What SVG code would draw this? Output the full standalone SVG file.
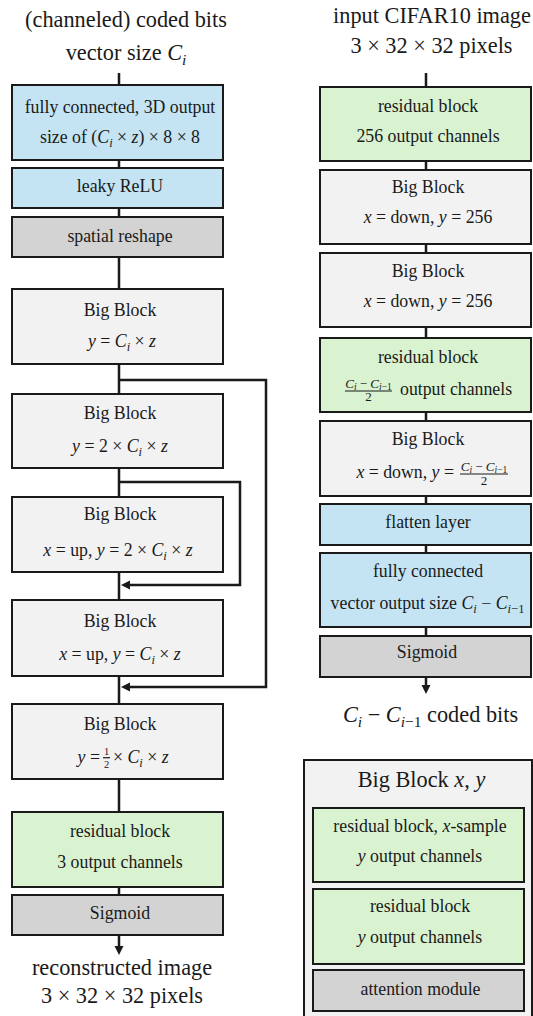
<svg xmlns="http://www.w3.org/2000/svg" width="533" height="1016" viewBox="0 0 533 1016">
<defs>
<style>
.t{font-family:"Liberation Serif","Times New Roman",serif;font-size:17.8px;fill:#1a1a1a;text-anchor:middle}
.h{font-size:22.3px}
.st{text-anchor:start}
.en{text-anchor:end}
.i{font-style:italic}
.sb{font-size:12.5px}
.hs{font-size:15.5px}
.fr{font-size:13px}
.fh{font-size:10.5px}
.fs{font-size:9.5px}
.bx{stroke:#1a1a1a;stroke-width:2}
.blue{fill:#c4e4f4}
.green{fill:#d9f2d0}
.lg{fill:#f2f2f2}
.dg{fill:#d3d3d3}
.bar{stroke:#1a1a1a;stroke-width:1.2}
</style>
<marker id="ah" viewBox="0 -5 10 10" refX="0" refY="0" markerWidth="10" markerHeight="10" markerUnits="userSpaceOnUse" orient="auto">
<path d="M0,-4.5 L9,0 L0,4.5 z" fill="#1a1a1a"/>
</marker>
</defs>
<rect width="533" height="1016" fill="#ffffff"/>

<g id="connectors" fill="none" stroke="#1a1a1a" stroke-width="2.5">
<path d="M119,73 V946" marker-end="url(#ah)"/>
<path d="M119,380 H266 V687 H130" marker-end="url(#ah)"/>
<path d="M119,482 H240 V585 H130" marker-end="url(#ah)"/>
<path d="M426,73 V685" marker-end="url(#ah)"/>
</g>

<g id="dec-title">
<text class="t h" x="126" y="27">(channeled) coded bits</text>
<text class="t h" x="126" y="60">vector size <tspan class="i">C</tspan><tspan class="i hs" dy="5">i</tspan></text>
</g>

<g id="dec-fc">
<rect class="bx blue" x="12" y="85" width="211" height="75"/>
<text class="t" x="120" y="113">fully connected, 3D output</text>
<text class="t" x="120" y="143">size of (<tspan class="i">C</tspan><tspan class="i sb" dy="4">i</tspan><tspan dy="-4"> × </tspan><tspan class="i">z</tspan>) × 8 × 8</text>
</g>

<g id="dec-relu">
<rect class="bx blue" x="12" y="168" width="211" height="40"/>
<text class="t" x="120" y="192">leaky ReLU</text>
</g>

<g id="dec-reshape">
<rect class="bx dg" x="12" y="217" width="211" height="40"/>
<text class="t" x="120" y="242">spatial reshape</text>
</g>

<g id="dec-bb1">
<rect class="bx lg" x="12" y="289" width="211" height="75"/>
<text class="t" x="120" y="316">Big Block</text>
<text class="t" x="122" y="347"><tspan class="i">y</tspan> = <tspan class="i">C</tspan><tspan class="i sb" dy="4">i</tspan><tspan dy="-4"> × </tspan><tspan class="i">z</tspan></text>
</g>

<g id="dec-bb2">
<rect class="bx lg" x="12" y="394" width="211" height="74"/>
<text class="t" x="120" y="419">Big Block</text>
<text class="t" x="120" y="452"><tspan class="i">y</tspan> = 2 × <tspan class="i">C</tspan><tspan class="i sb" dy="4">i</tspan><tspan dy="-4"> × </tspan><tspan class="i">z</tspan></text>
</g>

<g id="dec-bb3">
<rect class="bx lg" x="12" y="497" width="211" height="75"/>
<text class="t" x="120" y="520">Big Block</text>
<text class="t" x="118" y="556"><tspan class="i">x</tspan> = up, <tspan class="i">y</tspan> = 2 × <tspan class="i">C</tspan><tspan class="i sb" dy="4">i</tspan><tspan dy="-4"> × </tspan><tspan class="i">z</tspan></text>
</g>

<g id="dec-bb4">
<rect class="bx lg" x="12" y="600" width="211" height="76"/>
<text class="t" x="120" y="627">Big Block</text>
<text class="t" x="120" y="660"><tspan class="i">x</tspan> = up, <tspan class="i">y</tspan> = <tspan class="i">C</tspan><tspan class="i sb" dy="4">i</tspan><tspan dy="-4"> × </tspan><tspan class="i">z</tspan></text>
</g>

<g id="dec-bb5">
<rect class="bx lg" x="12" y="704" width="211" height="75"/>
<text class="t" x="120" y="730">Big Block</text>
<text class="t en" x="100" y="763"><tspan class="i">y</tspan> =</text>
<text class="t fh" x="106.5" y="755">1</text>
<line class="bar" x1="103" y1="757.7" x2="110" y2="757.7"/>
<text class="t fh" x="106.5" y="767.5">2</text>
<text class="t st" x="113" y="763">× <tspan class="i">C</tspan><tspan class="i sb" dy="4">i</tspan><tspan dy="-4"> × </tspan><tspan class="i">z</tspan></text>
</g>

<g id="dec-res">
<rect class="bx green" x="12" y="812" width="211" height="75"/>
<text class="t" x="120" y="837">residual block</text>
<text class="t" x="120" y="868">3 output channels</text>
</g>

<g id="dec-sigmoid">
<rect class="bx dg" x="12" y="895" width="211" height="40"/>
<text class="t" x="120" y="919">Sigmoid</text>
</g>

<g id="dec-output">
<text class="t h" x="122" y="975">reconstructed image</text>
<text class="t h" x="122" y="1003">3 × 32 × 32 pixels</text>
</g>

<g id="enc-title">
<text class="t h" x="432" y="23">input CIFAR10 image</text>
<text class="t h" x="431.5" y="53">3 × 32 × 32 pixels</text>
</g>

<g id="enc-res1">
<rect class="bx green" x="320" y="87" width="211" height="74"/>
<text class="t" x="428" y="112">residual block</text>
<text class="t" x="428" y="142">256 output channels</text>
</g>

<g id="enc-bb1">
<rect class="bx lg" x="320" y="170" width="211" height="74"/>
<text class="t" x="428" y="193">Big Block</text>
<text class="t" x="428" y="223"><tspan class="i">x</tspan> = down, <tspan class="i">y</tspan> = 256</text>
</g>

<g id="enc-bb2">
<rect class="bx lg" x="320" y="253" width="211" height="74"/>
<text class="t" x="428" y="277">Big Block</text>
<text class="t" x="428" y="307"><tspan class="i">x</tspan> = down, <tspan class="i">y</tspan> = 256</text>
</g>

<g id="enc-res2">
<rect class="bx green" x="320" y="338" width="211" height="74"/>
<text class="t" x="428" y="363">residual block</text>
<text class="t fr" x="368.5" y="387.5"><tspan class="i">C</tspan><tspan class="i fs" dy="2.5">i</tspan><tspan dy="-2.5"> − </tspan><tspan class="i">C</tspan><tspan class="fs" dy="2.5"><tspan class="i">i</tspan>−1</tspan></text>
<line class="bar" x1="345" y1="391" x2="392" y2="391"/>
<text class="t fr" x="368.5" y="401">2</text>
<text class="t st" x="400" y="395">output channels</text>
</g>

<g id="enc-bb3">
<rect class="bx lg" x="320" y="421" width="211" height="75"/>
<text class="t" x="428" y="445">Big Block</text>
<text class="t en" x="454" y="478"><tspan class="i">x</tspan> = down, <tspan class="i">y</tspan> =</text>
<text class="t fr" x="484" y="470.5"><tspan class="i">C</tspan><tspan class="i fs" dy="2.5">i</tspan><tspan dy="-2.5"> − </tspan><tspan class="i">C</tspan><tspan class="fs" dy="2.5"><tspan class="i">i</tspan>−1</tspan></text>
<line class="bar" x1="460" y1="474" x2="508" y2="474"/>
<text class="t fr" x="484" y="484.5">2</text>
</g>

<g id="enc-flatten">
<rect class="bx blue" x="320" y="504" width="211" height="41"/>
<text class="t" x="428" y="528">flatten layer</text>
</g>

<g id="enc-fc">
<rect class="bx blue" x="320" y="553" width="211" height="74"/>
<text class="t" x="428" y="577">fully connected</text>
<text class="t" x="427.5" y="609">vector output size <tspan class="i">C</tspan><tspan class="i sb" dy="4">i</tspan><tspan dy="-4"> − </tspan><tspan class="i">C</tspan><tspan class="sb" dy="4"><tspan class="i">i</tspan>−1</tspan></text>
</g>

<g id="enc-sigmoid">
<rect class="bx dg" x="320" y="636" width="211" height="41"/>
<text class="t" x="427" y="658">Sigmoid</text>
</g>

<g id="enc-output">
<text class="t h" x="430.5" y="722"><tspan class="i">C</tspan><tspan class="i hs" dy="5">i</tspan><tspan dy="-5"> − </tspan><tspan class="i">C</tspan><tspan class="hs" dy="5"><tspan class="i">i</tspan>−1</tspan><tspan dy="-5"> coded bits</tspan></text>
</g>

<g id="legend">
<rect class="bx lg" x="304" y="760" width="228" height="270"/>
<text class="t h" x="421.5" y="787">Big Block <tspan class="i">x</tspan>, <tspan class="i">y</tspan></text>
<g id="legend-res1">
<rect class="bx green" x="313" y="808" width="211" height="74"/>
<text class="t" x="420" y="832">residual block, <tspan class="i">x</tspan>-sample</text>
<text class="t" x="420" y="862"><tspan class="i">y</tspan> output channels</text>
</g>
<g id="legend-res2">
<rect class="bx green" x="313" y="889" width="211" height="75"/>
<text class="t" x="420" y="912">residual block</text>
<text class="t" x="420" y="943"><tspan class="i">y</tspan> output channels</text>
</g>
<g id="legend-attn">
<rect class="bx dg" x="313" y="970" width="211" height="41"/>
<text class="t" x="420.5" y="995">attention module</text>
</g>
</g>
</svg>
